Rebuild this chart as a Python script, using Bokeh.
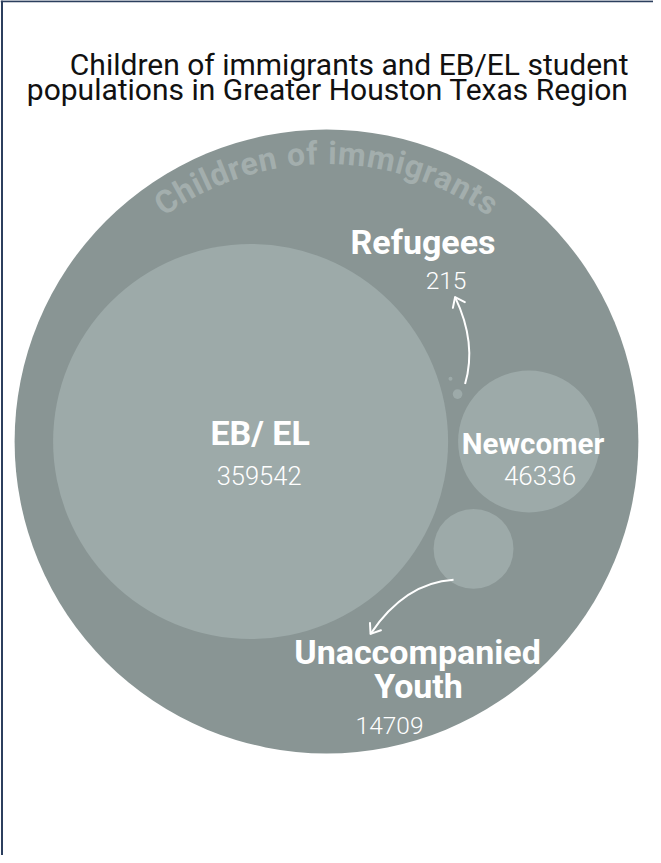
import numpy as np
from bokeh.plotting import figure
from bokeh.models import Range1d
from bokeh.core.properties import value
from bokeh.embed import file_html
from bokeh.resources import INLINE

# ---------------- data ----------------
categories = ["EB/ EL", "Newcomer", "Unaccompanied Youth", "Refugees", "Other"]
counts = [359542, 46336, 14709, 215, 37]
count_labels = ["359542", "46336", "14709", "215", ""]
parent_label = "Children of immigrants"
title_lines = ["Children of immigrants and EB/EL student",
               "populations in Greater Houston Texas Region"]

# ---------------- styles ----------------
OUTER = "#899594"
INNER = "#9daaa9"
ARC_TXT = "#a3aead"
NAVY = "#2c3f5e"
BOLD_FONT = value("Roboto")
LIGHT_FONT = value("Roboto Light")
BASE_FIX = 0.36  # empirical baseline correction (em)

W, H = 653, 855
p = figure(width=W, height=H, x_range=Range1d(0, W), y_range=Range1d(H, 0),
           output_backend="svg", toolbar_location=None, min_border=0,
           x_axis_location=None, y_axis_location=None)
p.grid.visible = False
p.outline_line_color = None
p.background_fill_color = "white"
p.border_fill_color = "white"

# frame lines (top and left edges of the card)
p.segment(x0=[0, 1.5], y0=[0.75, 0], x1=[W, 1.5], y1=[0.75, H],
          line_color=NAVY, line_width=2)

# ---------------- pack layout (sqrt scale, padding) ----------------
k = 197.5 / np.sqrt(max(counts))
r = k * np.sqrt(np.array(counts, dtype=float))
pad = 10.0


def tangent(c1, r1, c2, r2, rr, side):
    c1 = np.array(c1); c2 = np.array(c2)
    a = r1 + rr + pad
    b = r2 + rr + pad
    d = np.linalg.norm(c2 - c1)
    u = (c2 - c1) / d
    n = np.array([-u[1], u[0]])
    xa = (a * a - b * b + d * d) / (2 * d)
    h = np.sqrt(max(a * a - xa * xa, 0))
    return c1 + xa * u + side * h * n


c_eb = np.array([0.0, 0.0])
c_nc = np.array([r[0] + r[1] + pad, 0.0])
c_ua = tangent(c_eb, r[0], c_nc, r[1], r[2], +1)
c_rf = tangent(c_eb, r[0], c_nc, r[1], r[3], -1)
c_ot = tangent(c_eb, r[0], c_rf, r[3], r[4], -1)
centers = np.array([c_eb, c_nc, c_ua, c_rf, c_ot])

left = c_eb[0] - r[0]
right = c_nc[0] + r[1]
R_parent = (right - left) / 2 + 38.5
pc_local = np.array([(left + right) / 2, 0.0])
anchor = np.array([326.0, 441.0])
centers = centers + (anchor - pc_local)

p.circle(x=[anchor[0]], y=[anchor[1]], radius=R_parent, fill_color=OUTER, line_color=None)
p.circle(x=centers[:, 0], y=centers[:, 1], radius=r, fill_color=INNER, line_color=None)

# ---------------- curved parent label ----------------
widths = {'C': 0.65, 'h': 0.56, 'i': 0.25, 'l': 0.25, 'd': 0.56, 'r': 0.35, 'e': 0.53,
          'n': 0.56, ' ': 0.25, 'o': 0.57, 'f': 0.35, 'm': 0.88, 'g': 0.57, 'a': 0.54,
          't': 0.34, 's': 0.52}
fs_arc = 32
ls_arc = 1.5
r_base = R_parent - 35 + BASE_FIX * fs_arc
adv = [widths.get(ch, 0.55) * fs_arc for ch in parent_label]
total = sum(adv) + ls_arc * (len(parent_label) - 1)
theta0 = np.pi / 2 + (total / r_base) / 2
xs, ys, angs, chars = [], [], [], []
pos = 0.0
for ch, w in zip(parent_label, adv):
    mid = pos + w / 2
    th = theta0 - mid / r_base
    xs.append(anchor[0] + r_base * np.cos(th))
    ys.append(anchor[1] - r_base * np.sin(th))
    angs.append(th - np.pi / 2)
    chars.append(ch)
    pos += w + ls_arc
p.text(x=xs, y=ys, text=chars, angle=angs, text_align="center", text_baseline="alphabetic",
       text_font=BOLD_FONT, text_font_style="bold", text_font_size=f"{fs_arc}px",
       text_color=ARC_TXT)

# ---------------- labels ----------------
def label(x, y, txt, size, bold=True, color="white", font=None, align="center"):
    if font is None:
        font = BOLD_FONT if bold else LIGHT_FONT
    p.text(x=[x], y=[y - BASE_FIX * size], text=[txt], text_align=align,
           text_baseline="alphabetic", text_font=font,
           text_font_style="bold" if bold else "normal",
           text_font_size=f"{size}px", text_color=color)

eb, nc, ua, rf = centers[0], centers[1], centers[2], centers[3]
label(eb[0] + 9.5, eb[1] + 3.5, categories[0], 34)
label(eb[0] + 8.5, eb[1] + 43.5, count_labels[0], 25.5, bold=False)
label(nc[0] + 4, nc[1] + 13, categories[1], 29.5)
label(nc[0] + 11, nc[1] + 43, count_labels[1], 26, bold=False)
label(rf[0] - 34.5, rf[1] - 140, categories[3], 34)
label(rf[0] - 11.5, rf[1] - 105, count_labels[3], 24.5, bold=False)
ua_words = categories[2].split(" ")
label(ua[0] - 56, ua[1] + 115, ua_words[0], 34)
label(ua[0] - 55, ua[1] + 149, ua_words[1], 34)
label(ua[0] - 84, ua[1] + 185, count_labels[2], 24.5, bold=False)

# ---------------- arrows ----------------
def arrow(p0, c, p2, arm=11, half=np.radians(37)):
    p.quadratic(x0=[p0[0]], y0=[p0[1]], x1=[p2[0]], y1=[p2[1]], cx=[c[0]], cy=[c[1]],
                line_color="white", line_width=2)
    back = np.array(c) - np.array(p2)
    back = back / np.linalg.norm(back)
    pts = []
    for s in (+1, -1):
        ca, sa = np.cos(s * half), np.sin(s * half)
        v = np.array([back[0] * ca - back[1] * sa, back[0] * sa + back[1] * ca])
        pts.append(np.array(p2) + arm * v)
    p.line(x=[pts[0][0], p2[0], pts[1][0]], y=[pts[0][1], p2[1], pts[1][1]],
           line_color="white", line_width=2, line_join="round", line_cap="round")

arrow(rf + [7.5, -10], rf + [19.5, -51], rf + [-2.5, -97])
arrow(ua + [-20, 31], ua + [-68.5, 34], ua + [-103, 85])

# ---------------- title ----------------
label(628, 75, title_lines[0], 30, bold=False, color="#111111", font=value("Roboto"), align="right")
label(628, 100, title_lines[1], 30, bold=False, color="#111111", font=value("Roboto"), align="right")

open("out.html", "w").write(file_html(p, INLINE))
